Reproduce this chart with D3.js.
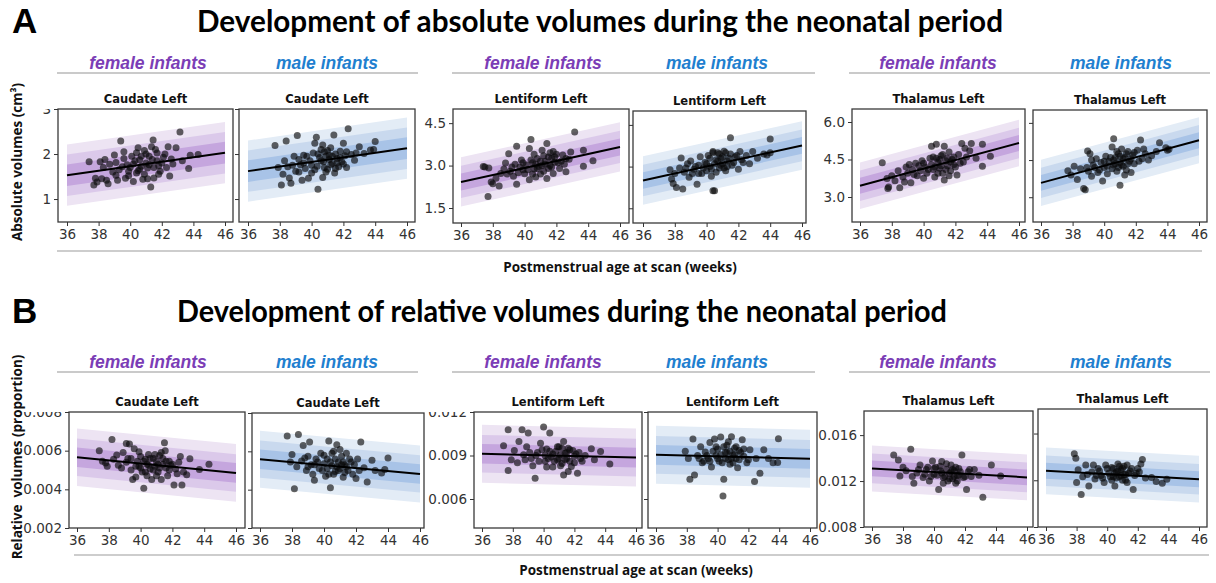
<!DOCTYPE html>
<html>
<head>
<meta charset="utf-8">
<script src="https://cdn.jsdelivr.net/npm/d3@7"></script>
<style>
  body { margin: 0; background: #fff; }
  svg { display: block; }
</style>
</head>
<body>
<div id="chart"></div>
<script>
// ---- data ----
const regions = ['Caudate Left', 'Lentiform Left', 'Thalamus Left'];
const sexLabels = { female: 'female infants', male: 'male infants' };
const xTicks = [36, 38, 40, 42, 44, 46];

const absTicks = [[1, 2, 3], [1.5, 3.0, 4.5], [3.0, 4.5, 6.0]];
const absTickFormat = ['d', '.1f', '.1f'];
const absYDomain = [[0.49, 3.0], [0.97, 5.0], [2.0, 6.52]];
const relTicks = [[0.002, 0.004, 0.006, 0.008], [0.006, 0.009, 0.012], [0.008, 0.012, 0.016]];
const relYDomain = [[0.002, 0.008], [0.004, 0.012], [0.008, 0.0181]];

// fitted line value at 36 and 46 weeks
const absFitF = [[1.53, 2.03], [2.42, 3.66], [3.45, 5.16]];
const absFitM = [[1.62, 2.13], [2.50, 3.76], [3.58, 5.30]];
const relFitF = [[0.00566, 0.00485], [0.00912, 0.00886], [0.0131, 0.01232]];
const relFitM = [[0.00559, 0.00482], [0.00905, 0.00877], [0.01281, 0.01209]];

// half widths of the centile bands (inner, middle, outer)
const absBandHalf = [[0.24, 0.46, 0.68], [0.30, 0.57, 0.87], [0.32, 0.61, 0.93]];
const relBandHalf = [[0.00051, 0.00097, 0.00149], [0.00068, 0.0013, 0.002], [0.00068, 0.0013, 0.002]];

// scatter points [age in weeks, volume]
const caudAbsF = [[37.4,1.83],[37.7,1.31],[37.8,1.46],[37.9,1.38],[38.1,1.83],[38.2,1.45],[38.4,1.88],[38.5,1.42],[38.6,1.34],[38.7,1.77],[39.0,1.98],[39.1,1.81],[39.1,1.53],[39.2,1.42],[39.4,2.29],[39.5,1.72],[39.6,2.05],[39.7,1.46],[39.8,1.76],[39.9,1.62],[40.0,1.70],[40.2,1.39],[40.3,1.85],[40.4,2.03],[40.5,1.63],[40.6,1.87],[40.7,1.73],[40.8,1.44],[40.9,2.08],[41.0,1.80],[41.1,1.69],[41.2,1.95],[41.3,1.27],[41.35,2.16],[41.45,2.31],[41.5,1.47],[41.6,2.10],[41.7,1.85],[41.8,1.74],[41.9,1.62],[42.1,1.93],[42.3,1.70],[42.4,2.16],[42.5,1.51],[42.6,1.89],[42.9,2.14],[43.15,2.49],[43.3,1.85],[43.7,1.68],[43.8,1.97],[44.3,1.99],
  [39.3,1.65],[39.6,1.90],[39.9,1.52],[40.1,1.95],[40.2,1.78],[40.4,1.58],[40.6,1.66],[40.7,1.95],[40.9,1.55],[41.0,2.00],[41.1,1.45],[41.2,1.76],[41.4,1.88],[41.5,1.70],[41.7,2.02],[41.8,1.55],[42.0,1.80],[42.2,2.00],[42.7,1.78],[38.9,1.60],[38.3,1.70],[40.5,2.14]];
const caudAbsM = [[37.7,2.19],[37.9,1.70],[38.1,1.31],[38.2,1.55],[38.4,2.29],[38.5,1.72],[38.6,1.47],[38.7,1.35],[38.9,1.95],[39.0,1.62],[39.1,2.41],[39.2,1.88],[39.3,1.76],[39.4,1.42],[39.5,1.97],[39.6,1.68],[39.8,1.46],[39.9,1.85],[40.0,1.58],[40.1,2.02],[40.2,2.24],[40.3,2.37],[40.35,1.73],[40.4,1.22],[40.5,1.92],[40.6,2.10],[40.7,1.48],[40.75,1.83],[40.8,2.05],[40.9,1.95],[41.0,1.66],[41.1,1.88],[41.2,2.14],[41.3,1.79],[41.4,2.42],[41.45,1.58],[41.5,2.00],[41.6,1.90],[41.7,1.72],[41.8,2.06],[41.9,1.83],[42.0,2.24],[42.1,1.96],[42.2,1.70],[42.3,2.56],[42.5,1.99],[42.7,1.86],[43.0,2.16],[43.3,2.01],[43.7,2.09],[43.9,2.10],[44.0,2.28],
  [39.2,1.60],[39.5,1.80],[39.7,1.95],[40.0,1.75],[40.2,1.65],[40.4,2.00],[40.6,1.85],[40.7,2.20],[40.8,1.70],[40.9,1.60],[41.0,2.08],[41.1,1.98],[41.2,1.76],[41.3,1.95],[41.6,1.80],[41.8,1.92],[42.0,1.78],[42.2,2.05],[42.8,2.02],[38.8,1.75],[38.3,1.85],[41.5,1.68]];
const lentAbsF = [[37.4,2.97],[37.5,2.95],[37.7,1.91],[37.75,2.91],[37.9,2.42],[38.0,2.36],[38.2,2.55],[38.4,2.28],[38.5,2.72],[38.7,2.88],[38.8,3.09],[39.0,3.42],[39.1,2.80],[39.3,2.62],[39.4,3.05],[39.5,3.68],[39.5,2.34],[39.7,2.95],[39.8,3.20],[39.9,2.85],[40.0,2.71],[40.1,3.02],[40.3,3.60],[40.3,2.50],[40.4,3.92],[40.5,3.10],[40.6,2.88],[40.7,2.60],[40.8,3.25],[40.9,2.97],[41.0,3.15],[41.1,3.54],[41.2,2.80],[41.3,3.05],[41.4,3.78],[41.4,2.54],[41.5,3.30],[41.6,3.00],[41.7,3.25],[41.8,2.72],[41.9,3.12],[42.0,3.40],[42.2,2.90],[42.4,3.37],[42.5,3.05],[42.6,2.78],[42.8,3.22],[42.9,3.48],[43.15,4.19],[43.7,3.54],[43.7,2.98],[44.3,3.17],
  [39.6,2.75],[39.9,3.10],[40.2,2.85],[40.4,3.20],[40.5,2.70],[40.7,3.05],[40.8,2.90],[41.0,2.70],[41.1,3.00],[41.2,3.35],[41.3,3.15],[41.5,2.90],[41.6,3.45],[41.7,2.95],[41.9,3.30],[42.1,3.10],[42.3,3.15],[42.6,3.25],[39.2,2.95],[38.9,2.70],[40.6,3.40],[41.8,3.50]];
const lentAbsM = [[37.7,2.89],[37.8,2.55],[37.9,2.39],[38.0,2.75],[38.1,2.25],[38.3,2.95],[38.4,3.31],[38.5,2.19],[38.6,2.80],[38.8,3.10],[38.9,2.62],[39.0,3.20],[39.2,2.90],[39.4,2.36],[39.5,3.05],[39.6,3.35],[39.7,2.75],[39.9,3.15],[40.0,2.85],[40.1,3.40],[40.2,3.00],[40.3,2.65],[40.4,3.54],[40.4,2.13],[40.5,2.13],[40.6,3.25],[40.7,3.50],[40.8,2.95],[40.9,3.30],[41.0,3.10],[41.1,3.55],[41.2,2.85],[41.3,3.20],[41.5,4.04],[41.5,3.45],[41.6,3.05],[41.8,3.35],[42.0,2.90],[42.1,3.54],[42.3,3.15],[42.5,3.40],[42.7,3.10],[42.9,3.54],[43.2,3.30],[43.6,3.45],[43.8,3.42],[44.0,3.99],[44.0,3.50],
  [39.3,3.00],[39.5,2.75],[39.8,2.95],[40.0,3.10],[40.2,3.30],[40.3,2.90],[40.5,3.10],[40.6,2.80],[40.7,3.20],[40.8,3.45],[40.9,3.05],[41.0,3.35],[41.1,2.95],[41.2,3.50],[41.3,3.00],[41.4,3.30],[41.7,3.15],[41.9,3.40],[42.2,3.25],[38.7,2.95],[39.1,2.75],[40.4,3.50]];
const thalAbsF = [[37.4,4.37],[37.7,3.74],[37.75,3.34],[37.8,3.40],[38.0,3.85],[38.2,3.65],[38.4,4.05],[38.5,3.37],[38.7,3.80],[38.9,4.20],[39.0,3.95],[39.2,3.57],[39.3,4.10],[39.5,4.35],[39.6,3.85],[39.8,4.05],[39.9,4.45],[40.0,3.75],[40.1,4.20],[40.2,3.95],[40.4,4.55],[40.5,5.03],[40.6,4.10],[40.7,3.80],[40.8,5.11],[40.9,4.40],[41.0,4.15],[41.1,4.65],[41.2,3.95],[41.3,5.03],[41.3,3.68],[41.4,4.45],[41.5,4.25],[41.6,4.80],[41.7,4.05],[41.8,4.50],[41.9,4.30],[42.1,3.88],[42.2,4.70],[42.4,5.14],[42.5,4.40],[42.7,4.60],[42.9,4.85],[43.0,5.14],[43.3,4.55],[43.7,5.11],[43.7,4.23],[44.2,4.63],
  [39.4,3.90],[39.7,4.25],[40.0,4.35],[40.3,4.10],[40.5,4.30],[40.6,4.60],[40.7,4.20],[40.9,3.95],[41.0,4.50],[41.1,4.25],[41.2,4.70],[41.4,4.10],[41.5,4.55],[41.6,3.85],[41.7,4.40],[41.9,4.60],[42.0,4.20],[42.3,4.35],[42.6,4.95],[38.8,3.60],[39.1,4.30],[40.8,4.55]];
const thalAbsM = [[37.7,4.07],[37.9,3.90],[38.1,4.25],[38.3,3.72],[38.5,4.15],[38.7,3.35],[38.8,3.30],[38.95,4.87],[39.0,4.05],[39.1,4.75],[39.2,3.85],[39.3,4.30],[39.5,4.55],[39.6,4.00],[39.8,4.40],[39.9,3.65],[40.0,4.20],[40.1,4.65],[40.2,3.95],[40.3,4.45],[40.5,5.03],[40.6,5.36],[40.6,4.30],[40.7,4.60],[40.8,4.05],[40.9,4.75],[41.0,3.48],[41.0,4.40],[41.1,4.95],[41.2,4.25],[41.3,4.60],[41.4,4.10],[41.5,4.85],[41.6,4.45],[41.7,4.00],[41.8,4.70],[41.9,4.35],[42.1,4.90],[42.3,5.31],[42.4,4.55],[42.6,4.75],[42.8,4.50],[43.0,4.67],[43.3,4.85],[43.5,5.20],[44.0,4.90],[44.1,4.94],[43.9,5.00],
  [39.4,4.20],[39.7,4.10],[40.0,4.45],[40.2,4.25],[40.4,4.60],[40.5,4.15],[40.7,4.35],[40.8,4.85],[40.9,4.20],[41.0,4.65],[41.1,4.30],[41.2,4.55],[41.3,3.90],[41.4,4.75],[41.5,4.35],[41.7,4.55],[41.9,4.80],[42.2,4.45],[42.5,4.95],[38.9,4.20],[39.2,4.50],[40.6,4.50]];

const caudRelF = [[37.4,0.00600],[37.6,0.00545],[37.8,0.00536],[37.9,0.00520],[38.2,0.00658],[38.3,0.00555],[38.5,0.00578],[38.6,0.00525],[38.9,0.00590],[39.1,0.00637],[39.2,0.00560],[39.3,0.00634],[39.4,0.00500],[39.5,0.00451],[39.6,0.00610],[39.7,0.00464],[39.8,0.00545],[39.9,0.00520],[40.0,0.00570],[40.1,0.00490],[40.2,0.00405],[40.3,0.00555],[40.4,0.00530],[40.5,0.00580],[40.6,0.00505],[40.7,0.00451],[40.8,0.00560],[40.9,0.00520],[41.0,0.00545],[41.1,0.00490],[41.2,0.00575],[41.3,0.00451],[41.4,0.00530],[41.5,0.00641],[41.55,0.00600],[41.6,0.00510],[41.7,0.00470],[41.8,0.00545],[41.9,0.00525],[42.1,0.00422],[42.2,0.00505],[42.4,0.00540],[42.5,0.00570],[42.6,0.00422],[42.7,0.00490],[42.9,0.00476],[43.1,0.00558],[43.7,0.00502],[44.3,0.00530],
  [39.4,0.00560],[39.7,0.00520],[39.9,0.00595],[40.0,0.00510],[40.2,0.00545],[40.3,0.00490],[40.5,0.00525],[40.6,0.00560],[40.8,0.00500],[40.9,0.00580],[41.0,0.00470],[41.1,0.00530],[41.2,0.00510],[41.4,0.00560],[41.6,0.00545],[41.8,0.00500],[42.0,0.00530],[42.3,0.00480],[39.1,0.00540],[38.8,0.00510],[41.3,0.00590],[40.4,0.00470]];
const caudRelM = [[37.7,0.00680],[37.9,0.00545],[38.0,0.00584],[38.15,0.00405],[38.3,0.00520],[38.4,0.00688],[38.6,0.00550],[38.7,0.00631],[38.9,0.00500],[39.0,0.00575],[39.1,0.00649],[39.2,0.00530],[39.3,0.00480],[39.4,0.00449],[39.5,0.00560],[39.7,0.00510],[39.8,0.00590],[40.0,0.00535],[40.1,0.00470],[40.2,0.00560],[40.3,0.00654],[40.4,0.00410],[40.5,0.00525],[40.6,0.00600],[40.7,0.00495],[40.8,0.00635],[40.9,0.00545],[41.0,0.00510],[41.1,0.00575],[41.2,0.00465],[41.3,0.00530],[41.4,0.00590],[41.5,0.00500],[41.7,0.00545],[41.8,0.00480],[42.0,0.00458],[42.1,0.00560],[42.3,0.00649],[42.5,0.00515],[42.7,0.00440],[43.0,0.00553],[43.2,0.00500],[43.6,0.00487],[43.8,0.00505],[44.0,0.00565],
  [39.4,0.00530],[39.6,0.00545],[39.9,0.00500],[40.0,0.00580],[40.2,0.00510],[40.4,0.00545],[40.5,0.00590],[40.6,0.00480],[40.7,0.00560],[40.8,0.00520],[40.9,0.00500],[41.0,0.00610],[41.1,0.00530],[41.2,0.00545],[41.3,0.00490],[41.4,0.00520],[41.6,0.00560],[41.9,0.00530],[42.2,0.00500],[39.0,0.00520],[38.8,0.00565],[40.3,0.00480]];
const lentRelF = [[37.4,0.00967],[37.7,0.01078],[37.7,0.00796],[37.9,0.00870],[38.1,0.00935],[38.3,0.00850],[38.4,0.00997],[38.6,0.01078],[38.7,0.00905],[38.9,0.00960],[39.0,0.01055],[39.2,0.00880],[39.3,0.00830],[39.45,0.00743],[39.6,0.00920],[39.8,0.00985],[40.0,0.01096],[40.1,0.00860],[40.2,0.00945],[40.4,0.01055],[40.5,0.00890],[40.6,0.00820],[40.8,0.00930],[40.9,0.00870],[41.0,0.00960],[41.1,0.00905],[41.2,0.00845],[41.3,0.00997],[41.3,0.00766],[41.4,0.00915],[41.5,0.00880],[41.6,0.00950],[41.7,0.00860],[41.8,0.00824],[41.9,0.00935],[42.0,0.00895],[42.2,0.00778],[42.3,0.00920],[42.5,0.00860],[42.7,0.00900],[43.1,0.00946],[43.3,0.00870],[43.7,0.00928],[44.3,0.00842],
  [39.5,0.00900],[39.7,0.00860],[39.9,0.00940],[40.1,0.00900],[40.3,0.00880],[40.4,0.00930],[40.6,0.00910],[40.7,0.00860],[40.9,0.00960],[41.0,0.00880],[41.1,0.00830],[41.2,0.00950],[41.4,0.00870],[41.5,0.00920],[41.6,0.00790],[41.7,0.00940],[42.0,0.00850],[42.1,0.00910],[42.4,0.00880],[39.1,0.00920],[38.8,0.00870],[40.2,0.00820]];
const lentRelM = [[37.9,0.00930],[38.1,0.00880],[38.2,0.00736],[38.4,0.01013],[38.5,0.00766],[38.7,0.00900],[38.9,0.00960],[39.0,0.00850],[39.2,0.00925],[39.4,0.00880],[39.5,0.00990],[39.6,0.00820],[39.8,0.01013],[39.9,0.00900],[40.0,0.00945],[40.1,0.00860],[40.2,0.01027],[40.35,0.00620],[40.4,0.00736],[40.5,0.00920],[40.6,0.00970],[40.7,0.00870],[40.8,0.00840],[40.9,0.01030],[41.0,0.00905],[41.1,0.00950],[41.2,0.00880],[41.3,0.00815],[41.4,0.00935],[41.6,0.01008],[41.7,0.00895],[41.9,0.00850],[42.1,0.00940],[42.4,0.00720],[42.5,0.00880],[42.75,0.00778],[43.0,0.00939],[43.3,0.00880],[43.6,0.00850],[43.9,0.00852],[43.95,0.01015],
  [39.3,0.00900],[39.5,0.00860],[39.7,0.00930],[39.9,0.00960],[40.0,0.00880],[40.2,0.00905],[40.3,0.00850],[40.5,0.00880],[40.6,0.00920],[40.7,0.00995],[40.8,0.00930],[40.9,0.00880],[41.0,0.00850],[41.1,0.00905],[41.2,0.00960],[41.4,0.00870],[41.5,0.00920],[41.7,0.00945],[42.0,0.00870],[38.8,0.00880],[39.1,0.00860],[40.4,0.00960]];
const thalRelF = [[37.4,0.01427],[37.7,0.01383],[37.8,0.01244],[38.0,0.01320],[38.2,0.01290],[38.5,0.01476],[38.7,0.01180],[38.9,0.01270],[39.1,0.01340],[39.3,0.01230],[39.5,0.01300],[39.7,0.01200],[39.9,0.01375],[40.0,0.01260],[40.1,0.01320],[40.3,0.01127],[40.4,0.01290],[40.5,0.01370],[40.6,0.01230],[40.8,0.01300],[40.9,0.01200],[41.0,0.01265],[41.1,0.01340],[41.2,0.01220],[41.3,0.01290],[41.4,0.01180],[41.5,0.01250],[41.6,0.01310],[41.8,0.01427],[41.9,0.01230],[42.1,0.01127],[42.2,0.01280],[42.4,0.01240],[42.6,0.01300],[42.9,0.01250],[43.15,0.01058],[43.7,0.01340],[44.3,0.01244],
  [39.4,0.01260],[39.6,0.01320],[39.8,0.01240],[40.0,0.01310],[40.2,0.01250],[40.4,0.01330],[40.5,0.01270],[40.7,0.01240],[40.8,0.01350],[41.0,0.01220],[41.1,0.01280],[41.2,0.01300],[41.3,0.01240],[41.4,0.01320],[41.5,0.01200],[41.6,0.01250],[41.7,0.01280],[42.0,0.01240],[42.3,0.01300],[38.6,0.01240],[39.0,0.01300],[40.6,0.01180]];
const thalRelM = [[37.85,0.01427],[37.95,0.01389],[38.0,0.01180],[38.1,0.01290],[38.3,0.01078],[38.4,0.01230],[38.6,0.01330],[38.8,0.01150],[39.0,0.01270],[39.2,0.01210],[39.4,0.01300],[39.6,0.01240],[39.8,0.01180],[39.9,0.01330],[40.1,0.01260],[40.3,0.01200],[40.4,0.01300],[40.5,0.01150],[40.6,0.01270],[40.7,0.01340],[40.8,0.01230],[40.9,0.01290],[41.0,0.01200],[41.1,0.01320],[41.2,0.01250],[41.3,0.01180],[41.5,0.01280],[41.7,0.01122],[41.8,0.01240],[42.0,0.01300],[42.2,0.01340],[42.3,0.01377],[42.5,0.01220],[42.9,0.01223],[43.2,0.01190],[43.6,0.01174],[43.9,0.01209],
  [39.3,0.01240],[39.5,0.01280],[39.7,0.01220],[40.0,0.01300],[40.2,0.01230],[40.3,0.01310],[40.5,0.01260],[40.6,0.01220],[40.7,0.01280],[40.8,0.01320],[40.9,0.01240],[41.0,0.01300],[41.1,0.01250],[41.2,0.01200],[41.3,0.01330],[41.4,0.01260],[41.6,0.01300],[41.9,0.01260],[42.1,0.01270],[38.7,0.01250],[39.1,0.01330],[40.4,0.01230]];

// ---- layout (pixels) ----
const W = 1216, H = 583;
const palette = {
  female: { text: '#7b3db6', bands: ['#ede4f3', '#dbc9ea', '#c5a6de'] },
  male:   { text: '#1f80cf', bands: ['#e3ecf6', '#c9d9ee', '#a8c3e7'] }
};
const boxesA = [
  { l: 58,   r: 233,  t: 109, b: 222, x36: 67,   x46: 225 },
  { l: 239,  r: 415,  t: 109, b: 222, x36: 248,  x46: 407 },
  { l: 453,  r: 629,  t: 109, b: 223, x36: 461,  x46: 620 },
  { l: 633,  r: 806,  t: 111, b: 223, x36: 643,  x46: 802 },
  { l: 852,  r: 1025, t: 109, b: 222, x36: 860,  x46: 1019 },
  { l: 1033, r: 1207, t: 110, b: 222, x36: 1041, x46: 1199 }
];
const boxesB = [
  { l: 69,   r: 245,  t: 412, b: 528, x36: 77,   x46: 236 },
  { l: 252,  r: 424,  t: 413, b: 528, x36: 260,  x46: 420 },
  { l: 474,  r: 642,  t: 412, b: 528, x36: 482,  x46: 636 },
  { l: 648,  r: 817,  t: 412, b: 528, x36: 656,  x46: 810 },
  { l: 864,  r: 1033, t: 411, b: 527, x36: 872,  x46: 1027 },
  { l: 1038, r: 1207, t: 409, b: 527, x36: 1046, x46: 1199 }
];
const headerFemaleX = [148, 543, 938];
const headerMaleX = [327, 717, 1121];
const headerLines = [[57, 418], [452, 815], [849, 1210]];

const svg = d3.select('#chart').append('svg')
    .attr('width', W)
    .attr('height', H);
const defs = svg.append('defs');

const tickFont = '"DejaVu Sans", sans-serif';
const labelFont = '"Open Sans", "DejaVu Sans", sans-serif';

let clipId = 0;
function drawPanel(box, o) {
  const x = d3.scaleLinear().domain([36, 46]).range([box.x36, box.x46]);
  const y = d3.scaleLinear().domain(o.yDomain).range([box.b, box.t]);
  const g = svg.append('g');
  const fit = a => o.fit[0] + (o.fit[1] - o.fit[0]) * (a - 36) / 10;
  const cols = palette[o.sex].bands;

  // centile bands, outer first
  [2, 1, 0].forEach((k, i) => {
    const h = o.half[k];
    const area = d3.area()
      .x(a => x(a))
      .y0(a => y(fit(a) - h))
      .y1(a => y(fit(a) + h));
    g.append('path')
      .attr('d', area([36, 46]))
      .attr('fill', cols[i]);
  });

  // points
  g.selectAll('circle')
    .data(o.points)
    .join('circle')
      .attr('cx', d => x(d[0]))
      .attr('cy', d => y(d[1]))
      .attr('r', 3.5)
      .attr('fill', '#0a0a0a')
      .attr('fill-opacity', 0.64);

  // fitted line
  g.append('path')
    .attr('d', d3.line().x(a => x(a)).y(a => y(fit(a)))([36, 46]))
    .attr('stroke', '#000')
    .attr('stroke-width', 2)
    .attr('fill', 'none');

  // frame
  g.append('rect')
    .attr('x', box.l).attr('y', box.t)
    .attr('width', box.r - box.l).attr('height', box.b - box.t)
    .attr('fill', 'none')
    .attr('stroke', '#3a3a3a')
    .attr('stroke-width', 1.3);

  // x axis
  const xa = g.append('g')
    .attr('transform', `translate(0,${box.b})`)
    .call(d3.axisBottom(x).tickValues(xTicks).tickSize(4).tickPadding(3).tickFormat(d3.format('d')));
  xa.select('.domain').remove();
  xa.selectAll('line').attr('stroke', '#333');
  xa.selectAll('text')
    .attr('font-family', tickFont)
    .attr('font-size', 13.5)
    .attr('fill', '#333');

  // y axis, labels only on female panels; top label is cut at the frame
  const id = 'clip' + (clipId++);
  defs.append('clipPath').attr('id', id)
    .append('rect')
      .attr('x', -60).attr('y', box.t)
      .attr('width', 62).attr('height', box.b - box.t + 12);
  const ya = g.append('g')
    .attr('transform', `translate(${box.l},0)`)
    .attr('clip-path', `url(#${id})`)
    .call(d3.axisLeft(y).tickValues(o.ticks).tickSize(4).tickPadding(3)
      .tickFormat(o.showY ? d3.format(o.fmt) : ''));
  ya.select('.domain').remove();
  ya.selectAll('line').attr('stroke', '#333');
  ya.selectAll('text')
    .attr('font-family', tickFont)
    .attr('font-size', 13.5)
    .attr('fill', '#333');

  // title
  svg.append('text')
    .attr('x', (box.l + box.r) / 2)
    .attr('y', box.t - 6)
    .attr('text-anchor', 'middle')
    .attr('font-family', tickFont)
    .attr('font-weight', 'bold')
    .attr('font-size', 11.5)
    .attr('fill', '#111')
    .text(o.title);
}

function drawRow(boxes, spec) {
  regions.forEach((name, i) => {
    ['female', 'male'].forEach((sex, j) => {
      drawPanel(boxes[i * 2 + j], {
        sex,
        title: name,
        yDomain: spec.yDomain[i],
        ticks: spec.ticks[i],
        fmt: spec.fmt[i],
        fit: (sex === 'female' ? spec.fitF : spec.fitM)[i],
        half: spec.half[i],
        points: spec.points[i * 2 + j],
        showY: sex === 'female'
      });
    });
  });
}

function drawHeaders(textY, lineY) {
  regions.forEach((_, i) => {
    svg.append('text')
      .attr('x', headerFemaleX[i]).attr('y', textY)
      .attr('text-anchor', 'middle')
      .attr('font-family', '"Liberation Sans", Arial, sans-serif')
      .attr('font-weight', 'bold').attr('font-style', 'italic')
      .attr('font-size', 17.5)
      .attr('fill', palette.female.text)
      .text(sexLabels.female);
    svg.append('text')
      .attr('x', headerMaleX[i]).attr('y', textY)
      .attr('text-anchor', 'middle')
      .attr('font-family', '"Liberation Sans", Arial, sans-serif')
      .attr('font-weight', 'bold').attr('font-style', 'italic')
      .attr('font-size', 17.5)
      .attr('fill', palette.male.text)
      .text(sexLabels.male);
    svg.append('line')
      .attr('x1', headerLines[i][0]).attr('x2', headerLines[i][1])
      .attr('y1', lineY).attr('y2', lineY)
      .attr('stroke', '#b8b8b8').attr('stroke-width', 1.5);
  });
}

function drawTitle(letter, text, tx, ty, len) {
  svg.append('text')
    .attr('x', 12).attr('y', ty)
    .attr('font-family', '"Liberation Sans", Arial, sans-serif')
    .attr('font-weight', 'bold')
    .attr('font-size', 35)
    .text(letter);
  svg.append('text')
    .attr('x', tx).attr('y', ty - 1)
    .attr('font-family', 'Lato, "Open Sans", sans-serif')
    .attr('font-weight', 'bold')
    .attr('font-size', 31)
    .attr('textLength', len)
    .attr('lengthAdjust', 'spacingAndGlyphs')
    .text(text);
}

function drawAxisLabels(xLabel, xc, xy, lineY, lx1, lx2, yLabel, yc) {
  svg.append('line')
    .attr('x1', lx1).attr('x2', lx2)
    .attr('y1', lineY).attr('y2', lineY)
    .attr('stroke', '#bdbdbd').attr('stroke-width', 1.5);
  svg.append('text')
    .attr('x', xc).attr('y', xy)
    .attr('text-anchor', 'middle')
    .attr('font-family', labelFont)
    .attr('font-weight', 'bold')
    .attr('font-size', 13.5)
    .attr('fill', '#111')
    .text(xLabel);
  svg.append('text')
    .attr('transform', `translate(22,${yc}) rotate(-90)`)
    .attr('text-anchor', 'middle')
    .attr('font-family', labelFont)
    .attr('font-weight', 'bold')
    .attr('font-size', 13.5)
    .attr('fill', '#111')
    .attr('xml:space', 'preserve')
    .text(yLabel);
}

// ---- row A ----
drawTitle('A', 'Development of absolute volumes during the neonatal period', 197, 33, 806);
drawHeaders(69, 73);
drawRow(boxesA, {
  yDomain: absYDomain, ticks: absTicks, fmt: absTickFormat,
  fitF: absFitF, fitM: absFitM, half: absBandHalf,
  points: [caudAbsF, caudAbsM, lentAbsF, lentAbsM, thalAbsF, thalAbsM]
});
drawAxisLabels('Postmenstrual age at scan (weeks)', 620, 272, 251, 57, 1202,
  'Absolute volumes (cm\u00b3)', 162);

// ---- row B ----
drawTitle('B', 'Development of relative volumes during the neonatal period', 177, 323, 770);
drawHeaders(368, 372);
drawRow(boxesB, {
  yDomain: relYDomain, ticks: relTicks, fmt: ['.3f', '.3f', '.3f'],
  fitF: relFitF, fitM: relFitM, half: relBandHalf,
  points: [caudRelF, caudRelM, lentRelF, lentRelM, thalRelF, thalRelM]
});
drawAxisLabels('Postmenstrual age at scan (weeks)', 636, 575, 555, 74, 1209,
  'Relative  volumes (proportion)', 457);
</script>
</body>
</html>
